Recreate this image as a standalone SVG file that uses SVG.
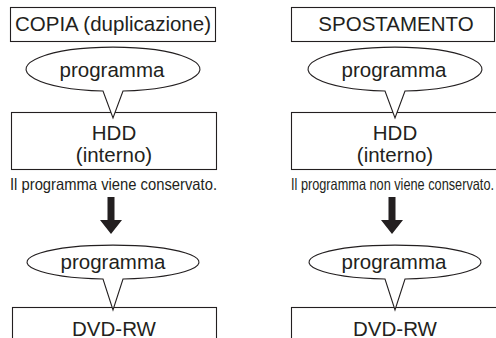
<svg xmlns="http://www.w3.org/2000/svg" width="496" height="338" viewBox="0 0 496 338">
<style>
.box{fill:#fff;stroke:#231f20;stroke-width:1.1}
.bub{fill:#fff;stroke:#231f20;stroke-width:1.1}
.t{font-family:"Liberation Sans",Arial,sans-serif;font-size:20.5px;fill:#231f20;text-anchor:middle}
.cap{font-family:"Liberation Sans",Arial,sans-serif;font-size:16.5px;fill:#231f20}
.arr{fill:#231f20}
</style>
<rect width="496" height="338" fill="#fff"/>

<g id="title-copia">
<rect class="box" x="10.5" y="7.5" width="205" height="34"/>
<text class="t" x="113" y="31">COPIA (duplicazione)</text>
</g>
<g id="title-spostamento">
<rect class="box" x="291.5" y="7.5" width="203" height="34"/>
<text class="t" x="396" y="31">SPOSTAMENTO</text>
</g>

<g id="hdd-left">
<rect class="box" x="11.5" y="112.5" width="205" height="57"/>
<text class="t" x="114" y="140">HDD</text>
<text class="t" x="114" y="162">(interno)</text>
</g>
<g id="hdd-right">
<rect class="box" x="291.5" y="112.5" width="210" height="57"/>
<text class="t" x="395" y="140">HDD</text>
<text class="t" x="395" y="162">(interno)</text>
</g>

<g id="bubble-left-1">
<path class="bub" d="M103,91 A87,22 0 1 1 123,91 L113,118 Z"/>
<text class="t" x="112" y="77">programma</text>
</g>
<g id="bubble-right-1">
<path class="bub" d="M385,91 A87,22 0 1 1 405,91 L395,118 Z"/>
<text class="t" x="394" y="77">programma</text>
</g>

<g id="caption-left">
<text class="cap" x="10" y="190" textLength="207" lengthAdjust="spacingAndGlyphs">Il programma viene conservato.</text>
</g>
<g id="caption-right">
<text class="cap" x="291" y="190" textLength="203" lengthAdjust="spacingAndGlyphs">Il programma non viene conservato.</text>
</g>

<g id="connectors">
<path class="arr" d="M107.5,197 H114.5 V220 H122 L111,234 L100,220 H107.5 Z"/>
<path class="arr" d="M388.5,197 H395.5 V220 H403 L392,234 L381,220 H388.5 Z"/>
</g>

<g id="dvd-left">
<rect class="box" x="12.5" y="307.5" width="204" height="40"/>
<text class="t" x="114" y="336">DVD-RW</text>
</g>
<g id="dvd-right">
<rect class="box" x="291.5" y="307.5" width="210" height="40"/>
<text class="t" x="395" y="336">DVD-RW</text>
</g>

<g id="bubble-left-2">
<path class="bub" d="M103,279 A86,17 0 1 1 123,279 L113,310 Z"/>
<text class="t" x="113" y="269">programma</text>
</g>
<g id="bubble-right-2">
<path class="bub" d="M385,279 A86,17 0 1 1 405,279 L395,310 Z"/>
<text class="t" x="394" y="269">programma</text>
</g>
</svg>
